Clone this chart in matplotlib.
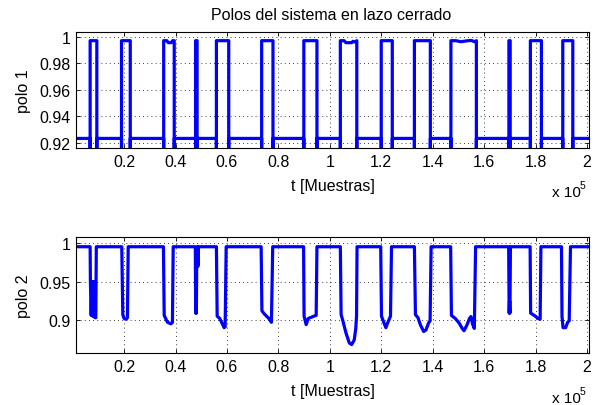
import matplotlib.pyplot as plt

plt.rcParams['font.family'] = ['Liberation Sans', 'DejaVu Sans']
plt.rcParams['font.size'] = 11.5
plt.rcParams['path.simplify'] = False

# sample range
t_first = 1300
t_last = 200600

# polo 1: switching pulses (samples)
pulse1_on = [6800, 19000, 35400, 47800, 55900, 73500, 89900, 104100, 120000, 132900, 147100, 169650, 178000, 190600]
pulse1_off = [9400, 22400, 39500, 48400, 60700, 77900, 95000, 110500, 124300, 139100, 157000, 170150, 182300, 194500]
polo1_low = 0.9235
polo1_high = 0.997
polo1_edge = 0.914
# extra points on top of some pulses (pulse index -> (t, value))
polo1_top = {
    2: [(36600, 0.997), (37200, 0.9955), (38300, 0.9955), (38900, 0.997)],
    7: [(105500, 0.997), (106300, 0.9955), (108500, 0.9955), (109000, 0.9965), (109800, 0.996)],
    10: [(149000, 0.997), (151000, 0.9962), (153000, 0.9968), (155000, 0.9972), (156300, 0.9962)],
}

# polo 2: dips
pulse2_on = [6800, 19100, 35300, 47700, 55900, 73300, 89800, 104100, 119800, 132900, 147000, 169550, 177900, 190100]
pulse2_off = [9200, 21600, 39100, 48800, 59700, 77800, 95000, 110600, 124000, 139400, 156700, 170250, 182100, 193600]
polo2_high = 0.9955
polo2_dips = [
    [(6900, 0.95), (7200, 0.906), (7500, 0.95), (7800, 0.905), (8100, 0.95), (8400, 0.904),
     (8700, 0.95), (8800, 0.903), (9000, 0.903)],
    [(19500, 0.907), (20000, 0.902), (20800, 0.901), (21300, 0.903)],
    [(35600, 0.906), (36300, 0.901), (36900, 0.897), (38200, 0.895), (38800, 0.897)],
    [(47850, 0.909), (48000, 0.912), (48100, 0.909), (48200, 0.95), (48300, 0.995), (48700, 0.995), (48700, 0.97)],
    [(56200, 0.905), (57200, 0.902), (58200, 0.895), (58900, 0.890), (59300, 0.891)],
    [(73600, 0.912), (74500, 0.908), (76300, 0.902), (77300, 0.897)],
    [(90000, 0.905), (90800, 0.894), (91600, 0.902), (93800, 0.905), (94700, 0.906)],
    [(104400, 0.907), (105000, 0.900), (106300, 0.883), (107600, 0.870), (108500, 0.868),
     (109500, 0.874), (110100, 0.889), (110400, 0.905)],
    [(120100, 0.905), (121100, 0.896), (121800, 0.890), (122600, 0.897), (123600, 0.905)],
    [(133300, 0.907), (134300, 0.903), (135200, 0.894), (136500, 0.885), (137400, 0.887),
     (138400, 0.896), (139000, 0.899)],
    [(147300, 0.906), (148800, 0.902), (150300, 0.896), (151500, 0.889), (152200, 0.886),
     (153400, 0.894), (154300, 0.902), (154900, 0.9045), (155500, 0.895), (156200, 0.889)],
    [(169750, 0.909), (169900, 0.925), (170050, 0.909)],
    [(178100, 0.909), (179500, 0.906), (181000, 0.902), (181800, 0.901)],
    [(190300, 0.905), (190700, 0.890), (191700, 0.890), (192500, 0.897), (193100, 0.899)],
]

xticks = [20000, 40000, 60000, 80000, 100000, 120000, 140000, 160000, 180000, 200000]
xticklabels = ['0.2', '0.4', '0.6', '0.8', '1', '1.2', '1.4', '1.6', '1.8', '2']
yticks1 = [0.92, 0.94, 0.96, 0.98, 1.0]
yticklabels1 = ['0.92', '0.94', '0.96', '0.98', '1']
yticks2 = [0.9, 0.95, 1.0]
yticklabels2 = ['0.9', '0.95', '1']


def build_polo1():
    t = [t_first]
    v = [polo1_low]
    for i, (a, b) in enumerate(zip(pulse1_on, pulse1_off)):
        t += [a, a, a]
        v += [polo1_low, polo1_edge, polo1_high]
        for tt, vv in polo1_top.get(i, []):
            t.append(tt)
            v.append(vv)
        t += [b, b, b]
        v += [polo1_high, polo1_edge, polo1_low]
    t.append(t_last)
    v.append(polo1_low)
    return t, v


def build_polo2():
    t = [t_first]
    v = [polo2_high]
    for a, b, dip in zip(pulse2_on, pulse2_off, polo2_dips):
        t.append(a)
        v.append(polo2_high)
        for tt, vv in dip:
            t.append(tt)
            v.append(vv)
        t.append(b)
        v.append(polo2_high)
    t.append(t_last)
    v.append(polo2_high)
    return t, v


def style_axes(ax, yticks, yticklabels, ylim, ylabel):
    ax.set_xlim(t_first, 200800)
    ax.set_ylim(*ylim)
    ax.set_xticks(xticks)
    ax.set_xticklabels(xticklabels)
    ax.set_yticks(yticks)
    ax.set_yticklabels(yticklabels)
    ax.tick_params(direction='in', top=True, right=True, length=3, width=0.6)
    ax.tick_params(axis='x', pad=4.5)
    ax.tick_params(axis='y', pad=4)
    ax.grid(True, color='k', linestyle=(0, (1, 4)), linewidth=0.6)
    for s in ax.spines.values():
        s.set_linewidth(0.8)
    ax.set_xlabel('t [Muestras]', labelpad=6)
    ax.set_ylabel(ylabel, labelpad=6)


fig = plt.figure(figsize=(5.96, 4.06), dpi=100)
ax1 = fig.add_axes([76 / 596, 1 - 149 / 406, 513 / 596, 115.7 / 406])
ax2 = fig.add_axes([76 / 596, 1 - 354 / 406, 513 / 596, 115.7 / 406])

t1, p1 = build_polo1()
ax1.plot(t1, p1, color='#0000ff', linewidth=2.3)
style_axes(ax1, yticks1, yticklabels1, (0.9163, 1.0033), 'polo 1')

t2, p2 = build_polo2()
ax2.plot(t2, p2, color='#0000ff', linewidth=2.3)
style_axes(ax2, yticks2, yticklabels2, (0.857, 1.0078), 'polo 2')

fig.text(331 / 596, 1 - 20 / 406, 'Polos del sistema en lazo cerrado', ha='center', va='baseline')

# exponent labels
for base in (197, 403):
    fig.text(552 / 596, 1 - base / 406, 'x 10', ha='left', va='baseline', fontsize=11)
    fig.text(580 / 596, 1 - (base - 8) / 406, '5', fontsize=7.5, ha='left', va='baseline')

fig.savefig('out.png', dpi=100)
